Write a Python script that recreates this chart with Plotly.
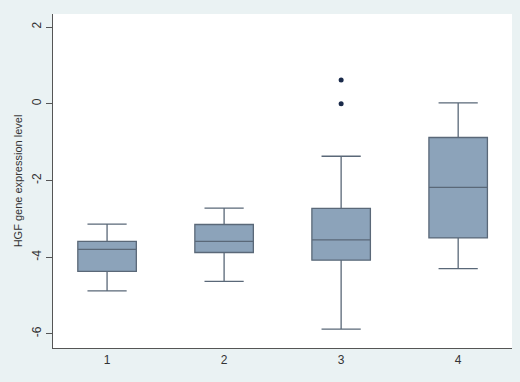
import plotly.graph_objects as go

groups = [1, 2, 3, 4]
lower_whisker = [-4.88, -4.63, -5.88, -4.30]
q1_vals = [-4.37, -3.88, -4.08, -3.50]
medians = [-3.80, -3.59, -3.55, -2.18]
q3_vals = [-3.59, -3.15, -2.73, -0.88]
upper_whisker = [-3.14, -2.72, -1.37, 0.02]
outlier_x = [3, 3]
outlier_y = [0.62, 0.0]
y_ticks = [-6, -4, -2, 0, 2]

fig = go.Figure()
fig.add_trace(go.Box(
    x=groups, q1=q1_vals, median=medians, q3=q3_vals,
    lowerfence=lower_whisker, upperfence=upper_whisker,
    width=0.5, whiskerwidth=0.67,
    fillcolor="#8CA3BA", line=dict(color="#5A6878", width=1.3),
    boxpoints=False, showlegend=False, hoverinfo="skip",
))
fig.add_trace(go.Scatter(
    x=outlier_x, y=outlier_y, mode="markers",
    marker=dict(color="#1A2A4A", size=5), showlegend=False, hoverinfo="skip",
))
fig.update_layout(
    width=520, height=382,
    paper_bgcolor="#EAF2F3", plot_bgcolor="#FFFFFF",
    margin=dict(l=53, r=8, t=14, b=34),
    font=dict(family="Liberation Sans, Arial, sans-serif", size=11, color="#333333"),
)
fig.update_xaxes(
    range=[0.538, 4.46], tickvals=groups, ticktext=[str(g) for g in groups],
    showgrid=False, zeroline=False, showline=True, linecolor="#555555", linewidth=1.2,
    ticks="", tickfont=dict(size=12), automargin=False,
)
fig.update_yaxes(
    range=[-6.37, 2.34], tickvals=y_ticks, ticktext=[str(t) for t in y_ticks],
    tickangle=-90, showgrid=False, zeroline=False, showline=True,
    linecolor="#555555", linewidth=1.2, ticks="outside", ticklen=6, tickcolor="#555555",
    title=dict(text="HGF gene expression level", font=dict(size=11), standoff=5),
    tickfont=dict(size=12), automargin=False,
)
fig.write_html(
    "out.html",
    config={"displayModeBar": False},
    post_script="document.body.style.margin='0';document.body.style.background='#EAF2F3';",
)
